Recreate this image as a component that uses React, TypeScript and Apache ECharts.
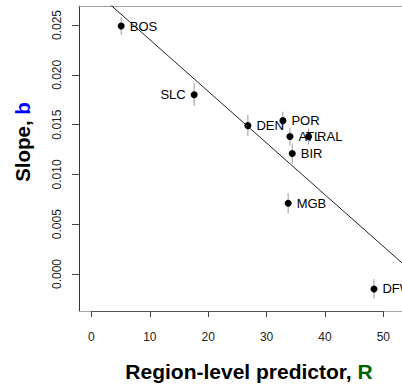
import React, { useEffect, useRef } from "react";
import * as echarts from "echarts";

// Per-region estimates: predictor R, fitted slope b and its standard error
const CITIES = ["BOS", "SLC", "DEN", "POR", "ATL", "RAL", "BIR", "MGB", "DFW"];
const REGION_R = [5.1, 17.6, 26.8, 32.8, 34.0, 37.2, 34.4, 33.7, 48.4];
const SLOPE_B = [0.0249, 0.018, 0.0149, 0.0154, 0.0138, 0.0138, 0.0121, 0.0071, -0.0015];
const SLOPE_SE = [0.00088, 0.00113, 0.00105, 0.0009, 0.0009, 0.0008, 0.001, 0.001, 0.00097];
const LEFT_LABELS = ["SLC"];

// Fitted regression line b = a + m * R
const FIT_INTERCEPT = 0.02872;
const FIT_SLOPE = -0.000519;

// Axis ranges and ticks
const X_MIN = -2.13;
const X_MAX = 53.2;
const Y_MIN = -0.003715;
const Y_MAX = 0.02691;
const X_TICKS = [0, 10, 20, 30, 40, 50];
const Y_TICKS = [0, 0.005, 0.01, 0.015, 0.02, 0.025];

const FONT = "'Liberation Sans', Arial, Helvetica, sans-serif";

export default function App() {
  const ref = useRef<HTMLDivElement>(null);

  useEffect(() => {
    if (!ref.current) return;
    const chart = echarts.init(ref.current, undefined, { renderer: "svg" });

    const points = CITIES.map((name, i) => ({
      name,
      value: [REGION_R[i], SLOPE_B[i]],
      label: LEFT_LABELS.includes(name) ? { position: "left" } : undefined,
    }));
    const bars = CITIES.map((_, i) => [REGION_R[i], SLOPE_B[i] - SLOPE_SE[i], SLOPE_B[i] + SLOPE_SE[i]]);
    const fit = [X_MIN, X_MAX].map((r) => [r, FIT_INTERCEPT + FIT_SLOPE * r]);

    chart.setOption({
      animation: false,
      grid: { left: 79, right: 0, top: 6, bottom: 75 },
      xAxis: [
        {
          type: "value",
          min: X_MIN,
          max: X_MAX,
          position: "bottom",
          axisLine: { onZero: false, lineStyle: { color: "#a8a8a8", width: 1 } },
          axisTick: { customValues: X_TICKS, length: 6, lineStyle: { color: "#444" } },
          axisLabel: {
            customValues: X_TICKS,
            fontSize: 12,
            color: "#222",
            fontFamily: FONT,
            margin: 20,
          },
          splitLine: { show: false },
        },
        {
          type: "value",
          min: X_MIN,
          max: X_MAX,
          position: "top",
          axisLine: { onZero: false, lineStyle: { color: "#a0a0a0", width: 1 } },
          axisTick: { show: false },
          axisLabel: { show: false },
          splitLine: { show: false },
        },
      ],
      yAxis: {
        type: "value",
        min: Y_MIN,
        max: Y_MAX,
        axisLine: { show: true, onZero: false, lineStyle: { color: "#333", width: 1 } },
        axisTick: { show: true, customValues: Y_TICKS, length: 7, lineStyle: { color: "#444" } },
        axisLabel: {
          customValues: Y_TICKS,
          rotate: 90,
          fontSize: 12,
          color: "#222",
          fontFamily: FONT,
          margin: 16,
          formatter: (v: number) => v.toFixed(3),
        },
        splitLine: { show: false },
      },
      series: [
        {
          type: "custom",
          z: 1,
          data: bars,
          encode: { x: 0, y: [1, 2] },
          renderItem: (_params: any, api: any) => {
            const x = api.value(0);
            const lo = api.coord([x, api.value(1)]);
            const hi = api.coord([x, api.value(2)]);
            return {
              type: "line",
              shape: { x1: lo[0], y1: lo[1], x2: hi[0], y2: hi[1] },
              style: { stroke: "#9a9a9a", lineWidth: 1 },
            };
          },
        },
        {
          type: "scatter",
          z: 2,
          symbol: "circle",
          symbolSize: 7,
          itemStyle: { color: "#000", opacity: 1 },
          data: points,
          label: {
            show: true,
            position: "right",
            distance: 5,
            formatter: "{b}",
            fontSize: 13,
            color: "#000",
            fontFamily: FONT,
          },
          markLine: {
            silent: true,
            symbol: "none",
            animation: false,
            label: { show: false },
            lineStyle: { color: "#555", width: 1, type: "solid" },
            data: [[{ coord: [X_TICKS[0], Y_MIN] }, { coord: [X_TICKS[X_TICKS.length - 1], Y_MIN] }]],
          },
        },
        {
          type: "line",
          z: 3,
          data: fit,
          clip: true,
          symbol: "none",
          silent: true,
          lineStyle: { color: "#222", width: 1 },
        },
      ],
      graphic: [
        {
          type: "text",
          x: 22,
          y: 142,
          rotation: Math.PI / 2,
          style: {
            text: "{t|Slope, }{b|b}",
            align: "center",
            verticalAlign: "middle",
            rich: {
              t: { fontSize: 20.5, fontWeight: "bold", fontFamily: FONT, fill: "#000" },
              b: { fontSize: 20.5, fontWeight: "bold", fontFamily: FONT, fill: "#0000ff" },
            },
          },
        },
        {
          type: "text",
          x: 249,
          y: 371,
          style: {
            text: "{t|Region-level predictor, }{r|R}",
            align: "center",
            verticalAlign: "middle",
            rich: {
              t: { fontSize: 21, fontWeight: "bold", fontFamily: FONT, fill: "#000" },
              r: { fontSize: 21, fontWeight: "bold", fontFamily: FONT, fill: "#006400" },
            },
          },
        },
      ],
    });

    return () => chart.dispose();
  }, []);

  return (
    <div
      ref={ref}
      style={{ position: "fixed", left: 0, top: 0, width: 402, height: 386, background: "#fff" }}
    />
  );
}
